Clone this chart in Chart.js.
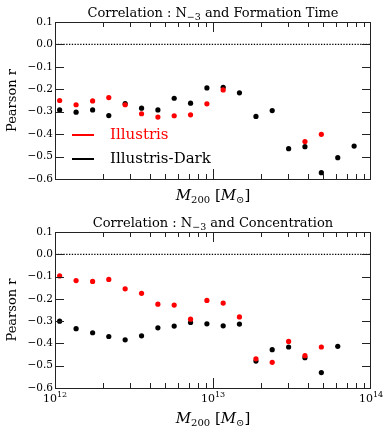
<!DOCTYPE html>
<html>
<head>
<meta charset="utf-8">
<script src="https://cdn.jsdelivr.net/npm/chart.js@4.4.1/dist/chart.umd.min.js"></script>
<style>
  html, body { margin: 0; padding: 0; background: #fff; }
  #wrap { position: relative; width: 391px; height: 434px; }
  canvas { position: absolute; left: 0; }
</style>
</head>
<body>
<div id="wrap">
  <canvas id="graficaFormacion" width="391" height="217" style="top:0"></canvas>
  <canvas id="graficaConcentracion" width="391" height="234" style="top:200px"></canvas>
</div>
<script>
// halo mass bins (M_sun)
const masas = [1.07e12, 1.36e12, 1.73e12, 2.19e12, 2.78e12, 3.53e12, 4.48e12, 5.68e12, 7.21e12, 9.15e12,
               1.16e13, 1.47e13, 1.87e13, 2.37e13, 3.01e13, 3.82e13, 4.85e13, 6.16e13, 7.82e13];

// Pearson r, N_-3 vs formation time
const formIllustris = [-0.250, -0.269, -0.252, -0.237, -0.269, -0.309, -0.324, -0.318, -0.314, -0.265,
                       -0.203, null, null, null, null, -0.433, -0.401, null, null];
const formDark = [-0.292, -0.302, -0.292, -0.317, -0.264, -0.284, -0.292, -0.240, -0.262, -0.194,
                  -0.191, -0.216, -0.321, -0.295, -0.465, -0.456, -0.572, -0.505, -0.453];

// Pearson r, N_-3 vs concentration
const concIllustris = [-0.097, -0.118, -0.122, -0.113, -0.155, -0.175, -0.224, -0.228, -0.291, -0.207,
                       -0.219, -0.281, -0.469, -0.485, -0.391, -0.455, -0.416, null, null];
const concDark = [-0.300, -0.334, -0.352, -0.369, -0.384, -0.366, -0.330, -0.322, -0.306, -0.312,
                  -0.321, -0.313, -0.479, -0.428, -0.416, -0.464, -0.531, -0.413, null];

const yTicks = [0.1, 0.0, -0.1, -0.2, -0.3, -0.4, -0.5, -0.6];
const yTickLabels = ["0.1", "0.0", "\u22120.1", "\u22120.2", "\u22120.3", "\u22120.4", "\u22120.5", "\u22120.6"];
const xMajor = [1e12, 1e13, 1e14];
const xMajorExp = ["12", "13", "14"];
const serie1 = "Illustris";
const serie2 = "Illustris-Dark";

const SERIF = '"DejaVu Serif", serif';

function puntos(valores) {
    return masas.map((m, i) => ({ x: m, y: valores[i] })).filter((p) => p.y !== null);
}

// draws pieces of text [{t, font, dy}] in a row
function textoCompuesto(ctx, piezas, x, y, align) {
    let ancho = 0;
    piezas.forEach((p) => { ctx.font = p.font; ancho += ctx.measureText(p.t).width; });
    let cx = align === "center" ? x - ancho / 2 : x;
    ctx.textAlign = "left";
    ctx.textBaseline = "alphabetic";
    piezas.forEach((p) => {
        ctx.font = p.font;
        ctx.fillText(p.t, cx, y + (p.dy || 0));
        cx += ctx.measureText(p.t).width;
    });
}

function crearPlugin(opc) {
    return {
        id: "ejes" + opc.id,
        beforeDatasetsDraw(chart) {
            const ctx = chart.ctx;
            const a = chart.chartArea;
            const y0 = chart.scales.y.getPixelForValue(0);
            ctx.save();
            ctx.strokeStyle = "#000";
            ctx.lineWidth = 1.3;
            ctx.setLineDash([1.3, 1.5]);
            ctx.beginPath();
            ctx.moveTo(a.left, y0);
            ctx.lineTo(a.right, y0);
            ctx.stroke();
            ctx.restore();
        },
        afterDraw(chart) {
            const ctx = chart.ctx;
            const a = chart.chartArea;
            const sx = chart.scales.x;
            const sy = chart.scales.y;
            ctx.save();
            ctx.fillStyle = "#000";
            ctx.strokeStyle = "#222";
            ctx.lineWidth = 1;

            // y ticks both sides
            ctx.beginPath();
            yTicks.forEach((v) => {
                const py = Math.round(sy.getPixelForValue(v)) + 0.5;
                ctx.moveTo(a.left, py); ctx.lineTo(a.left + 9, py);
                ctx.moveTo(a.right, py); ctx.lineTo(a.right - 9, py);
            });
            // x ticks top and bottom
            for (let d = 12; d < 14; d++) {
                for (let k = 1; k < 10; k++) {
                    const px = Math.round(sx.getPixelForValue(k * Math.pow(10, d))) + 0.5;
                    const len = k === 1 ? 10 : 5;
                    ctx.moveTo(px, a.bottom); ctx.lineTo(px, a.bottom - len);
                    ctx.moveTo(px, a.top); ctx.lineTo(px, a.top + len);
                }
            }
            ctx.stroke();

            // frame
            ctx.strokeRect(Math.round(a.left) + 0.5, Math.round(a.top) + 0.5,
                Math.round(a.right - a.left) - 1, Math.round(a.bottom - a.top));

            // y tick labels
            ctx.font = "10.5px " + SERIF;
            ctx.textAlign = "right";
            ctx.textBaseline = "middle";
            yTicks.forEach((v, i) => {
                ctx.fillText(yTickLabels[i], a.left - 2, sy.getPixelForValue(v));
            });

            // x tick labels
            if (opc.xLabels) {
                xMajor.forEach((v, i) => {
                    textoCompuesto(ctx, [
                        { t: "10", font: "11px " + SERIF },
                        { t: xMajorExp[i], font: "8px " + SERIF, dy: -5 }
                    ], sx.getPixelForValue(v), a.bottom + 14, "center");
                });
            }

            // title
            const f = "13px " + SERIF;
            textoCompuesto(ctx, [
                { t: "Correlation : N", font: f },
                { t: "\u22123", font: "9.5px " + SERIF, dy: 3 },
                { t: " and " + opc.titulo, font: f }
            ], (a.left + a.right) / 2, a.top - 5, "center");

            // x axis title
            const fi = "italic 15px " + SERIF;
            const fr = "15px " + SERIF;
            textoCompuesto(ctx, [
                { t: "M", font: fi },
                { t: "200", font: "10px " + SERIF, dy: 3 },
                { t: " [", font: fr },
                { t: "M", font: fi },
                { t: "\u2299", font: "10px " + SERIF, dy: 3 },
                { t: "]", font: fr }
            ], (a.left + a.right) / 2, a.bottom + opc.xTitulo, "center");

            // y axis title
            ctx.translate(13, (a.top + a.bottom) / 2);
            ctx.rotate(-Math.PI / 2);
            ctx.font = "13px " + SERIF;
            ctx.textAlign = "center";
            ctx.textBaseline = "middle";
            ctx.fillText("Pearson r", 0, 0);
            ctx.restore();

            // legend
            if (opc.leyenda) {
                ctx.save();
                const items = [[serie1, "#ff0000", 135], [serie2, "#000000", 159]];
                items.forEach(([t, c, py]) => {
                    ctx.strokeStyle = c;
                    ctx.lineWidth = 2;
                    ctx.beginPath();
                    ctx.moveTo(72, py); ctx.lineTo(94, py);
                    ctx.stroke();
                    ctx.fillStyle = c;
                    ctx.font = "15px " + SERIF;
                    ctx.textAlign = "left";
                    ctx.textBaseline = "middle";
                    ctx.fillText(t, 110, py);
                });
                ctx.restore();
            }
        }
    };
}

function generarGrafico(id, rojo, negro, padding, opc) {
    return new Chart(document.getElementById(id), {
        type: "scatter",
        data: {
            datasets: [
                { label: serie1, data: puntos(rojo), backgroundColor: "#ff0000", pointRadius: 2.6, pointBorderWidth: 0 },
                { label: serie2, data: puntos(negro), backgroundColor: "#000000", pointRadius: 2.6, pointBorderWidth: 0 }
            ]
        },
        options: {
            responsive: false,
            animation: false,
            layout: { padding: padding },
            plugins: { legend: { display: false }, tooltip: { enabled: false }, title: { display: false } },
            scales: {
                x: { type: "logarithmic", min: 1e12, max: 1e14, display: false },
                y: { min: -0.6, max: 0.1, display: false }
            }
        },
        plugins: [crearPlugin(opc)]
    });
}

generarGrafico("graficaFormacion", formIllustris, formDark,
    { left: 55, right: 20, top: 22, bottom: 38 },
    { id: 1, titulo: "Formation Time", xLabels: false, xTitulo: 21, leyenda: true });
generarGrafico("graficaConcentracion", concIllustris, concDark,
    { left: 55, right: 20, top: 32, bottom: 46 },
    { id: 2, titulo: "Concentration", xLabels: true, xTitulo: 35, leyenda: false });
</script>
</body>
</html>
